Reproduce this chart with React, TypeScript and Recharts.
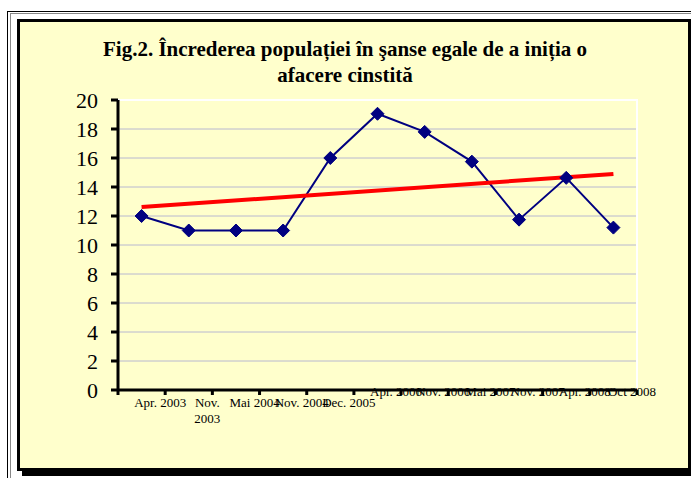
import { CartesianGrid, Line, LineChart, ReferenceArea, ReferenceLine, XAxis, YAxis } from "recharts";

const categories = [
  "Apr. 2003",
  "Nov. 2003",
  "Mai 2004",
  "Nov. 2004",
  "Dec. 2005",
  "Apr. 2006",
  "Nov. 2006",
  "Mai 2007",
  "Nov. 2007",
  "Apr. 2008",
  "Oct 2008",
];
const values = [12, 11, 11, 11, 16, 19.05, 17.8, 15.75, 11.75, 14.63, 11.2];
// linear trendline as drawn in the original (start / end values)
const trendStart = 12.62;
const trendEnd = 14.9;
const yTicks = [0, 2, 4, 6, 8, 10, 12, 14, 16, 18, 20];
// the original wraps this label on two lines
const wrapped = ["Nov. 2003"];
// from this label on, the original draws the labels over the axis line
const RAISED_FROM = 5;

const FONT = '"Liberation Serif", "Times New Roman", serif';
const NAVY = "#000080";

const data = categories.map((label, i) => ({ i, label, value: values[i] }));
const xTicks = [-0.5, ...categories.map((_, i) => i + 0.5)];

function XTick({ x, y, payload }: any) {
  const idx = Math.round(payload.value - 0.5);
  const label = categories[idx];
  if (!label) return null;
  const raised = idx >= RAISED_FROM;
  const lines = wrapped.includes(label) ? label.split(" ") : [label];
  const tx = x - 5;
  return (
    <text x={tx} y={y} textAnchor="middle" fontSize={13} fontFamily={FONT} fill="#000">
      {lines.map((l, k) => (
        <tspan key={k} x={tx} dy={k === 0 ? (raised ? -1 : 10) : 16}>
          {l}
        </tspan>
      ))}
    </text>
  );
}

function Diamond({ cx, cy }: any) {
  if (cx == null || cy == null) return null;
  const r = 6.5;
  return (
    <polygon
      points={`${cx},${cy - r} ${cx + r},${cy} ${cx},${cy + r} ${cx - r},${cy}`}
      fill={NAVY}
      stroke={NAVY}
    />
  );
}

export default function App() {
  return (
    <div style={{ position: "absolute", left: 0, top: 0, width: 691, height: 478, overflow: "hidden", background: "#fff" }}>
      <div style={{ position: "absolute", left: 7, top: 11, width: 700, height: 480, borderLeft: "1px solid #000", borderTop: "1px solid #000" }} />
      <div style={{ position: "absolute", left: 10, top: 13, width: 700, height: 480, borderLeft: "1px solid #888", borderTop: "1px solid #888" }} />
      <div
        style={{
          position: "absolute",
          left: 17,
          top: 19,
          width: 668,
          height: 446,
          border: "3px solid #000",
          boxShadow: "5px 5px 0 #000",
          background: "#FFFFCC",
        }}
      >
        <div
          style={{
            position: "absolute",
            left: 0,
            top: 14,
            width: 650,
            textAlign: "center",
            fontFamily: FONT,
            fontWeight: "bold",
            fontSize: 21,
            lineHeight: "26px",
            color: "#000",
          }}
        >
          Fig.2. Încrederea populației în şanse egale de a iniția o
          <br />
          afacere cinstită
        </div>
        <div style={{ position: "absolute", left: 0, top: 0 }}>
          <LineChart width={668} height={446} data={data} margin={{ top: 78, right: 51, left: 0, bottom: 48 }}>
            <CartesianGrid vertical={false} stroke="#b8b8d0" />
            <ReferenceArea x1={-0.5} x2={10.5} y1={0} y2={20} fill="none" stroke="#fff" strokeWidth={2} />
            <XAxis
              type="number"
              dataKey="i"
              domain={[-0.5, 10.5]}
              ticks={xTicks}
              interval={0}
              height={30}
              tick={<XTick />}
              tickSize={5}
              tickMargin={2}
              stroke="#000"
              axisLine={{ stroke: "#000", strokeWidth: 3 }}
              tickLine={{ stroke: "#000", strokeWidth: 3 }}
            />
            <YAxis
              domain={[0, 20]}
              ticks={yTicks}
              interval={0}
              width={98}
              tickSize={7}
              tickMargin={13}
              tick={{ fontSize: 22, fontFamily: FONT, fill: "#000" }}
              axisLine={{ stroke: "#000", strokeWidth: 3 }}
              tickLine={{ stroke: "#000", strokeWidth: 3 }}
            />
            <Line
              type="linear"
              dataKey="value"
              stroke={NAVY}
              strokeWidth={2}
              dot={<Diamond />}
              activeDot={false}
              isAnimationActive={false}
            />
            <ReferenceLine
              segment={[
                { x: 0, y: trendStart },
                { x: 10, y: trendEnd },
              ]}
              stroke="#ff0000"
              strokeWidth={4}
            />
          </LineChart>
        </div>
      </div>
    </div>
  );
}
